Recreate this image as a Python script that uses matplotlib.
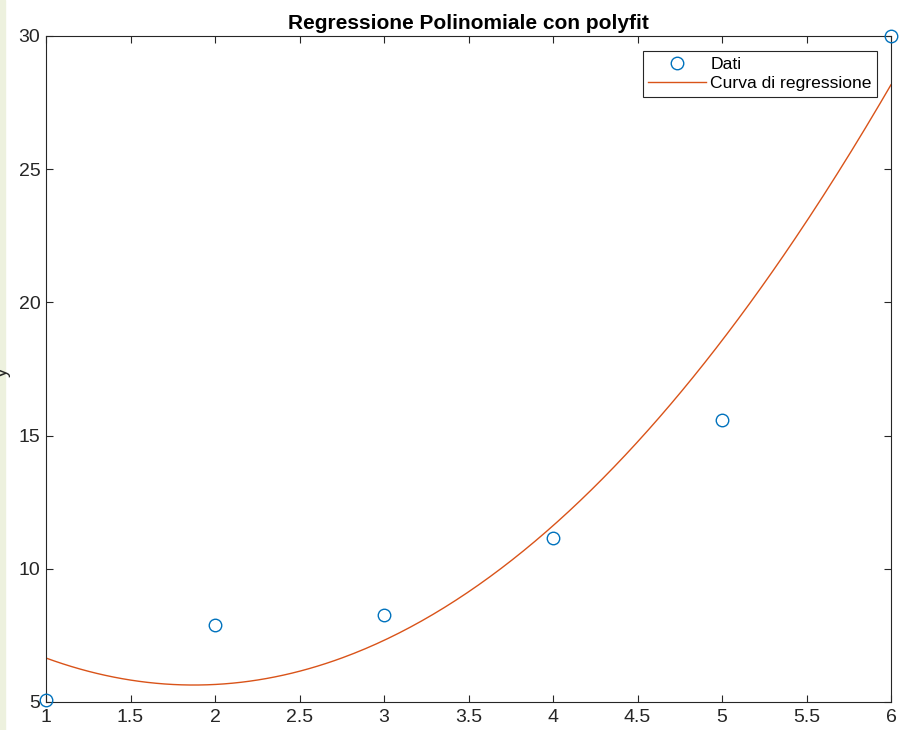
import numpy as np
import matplotlib
matplotlib.use("Agg")
import matplotlib.pyplot as plt
from matplotlib.patches import Rectangle

plt.rcParams['font.family'] = ['Liberation Sans', 'DejaVu Sans']

# dati
x = [1, 2, 3, 4, 5, 6]
y = [5.07, 7.89, 8.27, 11.16, 15.59, 30.0]
degree = 2

xticks = [1, 1.5, 2, 2.5, 3, 3.5, 4, 4.5, 5, 5.5, 6]
xticklabels = ['1', '1.5', '2', '2.5', '3', '3.5', '4', '4.5', '5', '5.5', '6']
yticks = [5, 10, 15, 20, 25, 30]

blue = '#0072BD'
orange = '#D95319'
axcol = '#262626'

# regressione polinomiale
p = np.polyfit(x, y, degree)
xf = np.linspace(min(x), max(x), 300)
yf = np.polyval(p, xf)

fig = plt.figure(figsize=(9.04, 7.30), dpi=100)
fig.patches.append(Rectangle((0, 0), 5 / 904, 1, transform=fig.transFigure,
                             color='#EDF1DE', zorder=0))

ax = fig.add_axes([46 / 904, 28 / 730, 845 / 904, 666 / 730])
ax.plot(x, y, 'o', mfc='none', mec=blue, ms=9, mew=1.0, label='Dati', clip_on=False, zorder=3)
ax.plot(xf, yf, '-', color=orange, lw=1.0, label='Curva di regressione')

ax.set_xlim(1, 6)
ax.set_ylim(5, 30)
ax.set_xticks(xticks)
ax.set_xticklabels(xticklabels)
ax.set_yticks(yticks)
ax.tick_params(direction='in', top=True, right=True, length=5, width=0.8,
               color=axcol, labelcolor=axcol, labelsize=14)
ax.tick_params(axis='x', pad=5)
ax.tick_params(axis='y', pad=4)
for s in ax.spines.values():
    s.set_color(axcol)
    s.set_linewidth(0.8)

ax.set_title('Regressione Polinomiale con polyfit', fontsize=15, fontweight='bold', pad=5)

leg = ax.legend(loc='upper right', bbox_to_anchor=(0.9835, 0.977), fontsize=12.6,
                fancybox=False, framealpha=1, edgecolor=axcol,
                borderpad=0.3, handlelength=3.3, handletextpad=0.25, labelspacing=0.25,
                borderaxespad=0)
leg.get_frame().set_linewidth(0.8)

# etichetta asse y, quasi tutta fuori dal bordo (come nell'originale)
fig.text(0.012, 0.49, 'y', rotation=90, ha='right', va='center', fontsize=14, color=axcol)

fig.savefig('out.png', dpi=100)
